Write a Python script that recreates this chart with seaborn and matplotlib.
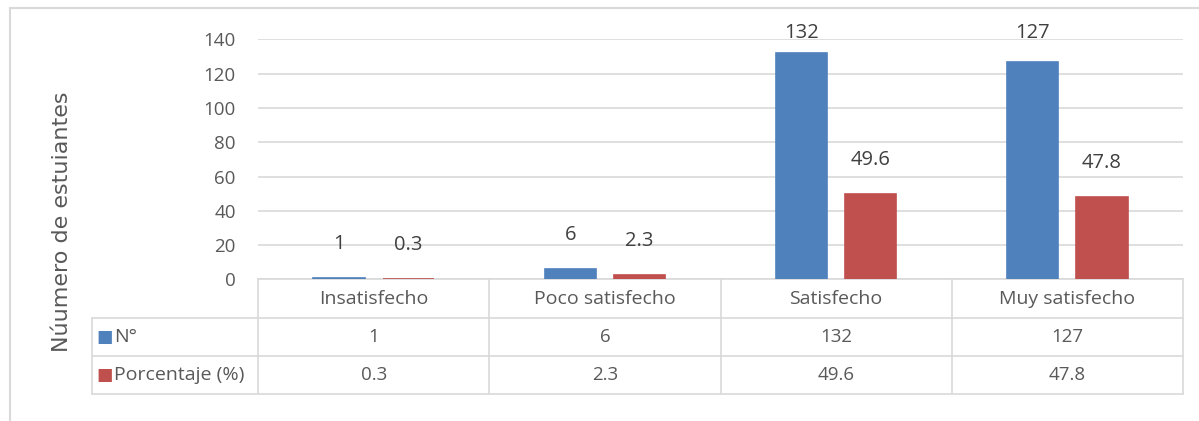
import matplotlib

matplotlib.use("Agg")
import matplotlib.pyplot as plt
import pandas as pd
import seaborn as sns

# --------------------------------------------------------------------------- #
# Data
# --------------------------------------------------------------------------- #
categories = ["Insatisfecho", "Poco satisfecho", "Satisfecho", "Muy satisfecho"]
series_names = ["N°", "Porcentaje (%)"]
n_values = [1, 6, 132, 127]
pct_values = [0.3, 2.3, 49.6, 47.8]
y_ticks = [0, 20, 40, 60, 80, 100, 120, 140]
y_label = "Núumero de estuiantes"

colors = ["#4F81BD", "#C0504D"]
text_c = "#595959"
grid_c = "#D9D9D9"

df = pd.DataFrame({
    "categoria": categories * 2,
    "serie": [series_names[0]] * 4 + [series_names[1]] * 4,
    "valor": n_values + pct_values,
})

sns.set_theme(style="white")
plt.rcParams["font.family"] = ["Open Sans", "DejaVu Sans"]

W, H = 1199, 421
fig = plt.figure(figsize=(W / 100, H / 100), dpi=100)


def px_rect(x0, y0, x1, y1):
    return [x0 / W, 1 - y1 / H, (x1 - x0) / W, (y1 - y0) / H]


# bar axes
ax = fig.add_axes(px_rect(258, 39.3, 1183, 279.4))
sns.barplot(data=df, x="categoria", y="valor", hue="serie", order=categories,
            hue_order=series_names, palette=colors, width=0.6, gap=0.26,
            saturation=1, legend=False, ax=ax)
for p in ax.patches:
    p.set_zorder(3)
    p.set_edgecolor(p.get_facecolor())
    p.set_linewidth(1.2)
ax.set_xlim(-0.5, len(categories) - 0.5)
ax.set_ylim(0, 140)
ax.set_yticks(y_ticks)
ax.set_yticklabels([str(t) for t in y_ticks], color=text_c, fontsize=13.5)
ax.tick_params(axis="y", length=0, pad=16)
ax.set_xticks([])
ax.set_xlabel("")
ax.set_ylabel("")
ax.yaxis.grid(True, color=grid_c, lw=1.2)
ax.set_axisbelow(True)
for s in ["top", "right", "left"]:
    ax.spines[s].set_visible(False)
ax.spines["bottom"].set_color(grid_c)
ax.spines["bottom"].set_linewidth(1.2)
ax.spines["bottom"].set_zorder(0.5)

# data labels above bars (clamped to the top of the plot area like Excel)
for cont, vals in zip(ax.containers, [n_values, pct_values]):
    for bar, v in zip(cont, vals):
        yl = min(v + 19.8, 143.5)
        ax.text(bar.get_x() + bar.get_width() / 2, yl, f"{v:g}",
                ha="center", va="center", fontsize=14.5, color="#404040",
                clip_on=False)

# data table below the chart
tx0, tx1 = 92, 1183
tab = fig.add_axes(px_rect(tx0, 279.4, tx1, 394))
first_col = (258 - tx0) / ((1183 - 258) / len(categories))
tab.set_xlim(-0.5 - first_col, len(categories) - 0.5)
tab.set_ylim(3, 0)
tab.axis("off")
lk = dict(color=grid_c, lw=1.2, clip_on=False)
for yy in [1, 2, 3]:
    tab.plot([-0.5 - first_col, len(categories) - 0.5], [yy, yy], **lk)
tab.plot([-0.5 - first_col] * 2, [1, 3], **lk)
for i in range(len(categories) + 1):
    tab.plot([i - 0.5] * 2, [0, 3], **lk)

for i, c in enumerate(categories):
    tab.text(i, 0.5, c, ha="center", va="center", fontsize=14, color=text_c)
    tab.text(i, 1.5, f"{n_values[i]:g}", ha="center", va="center",
             fontsize=13.5, color=text_c)
    tab.text(i, 2.5, f"{pct_values[i]:g}", ha="center", va="center",
             fontsize=13.5, color=text_c)

for r, (name, col) in enumerate(zip(series_names, colors)):
    x_left = -0.5 - first_col + 0.02
    tab.text(x_left, r + 1.5, "■", ha="left", va="center", fontsize=12.5,
             color=col, family=["DejaVu Sans"])
    tab.text(x_left + 0.075, r + 1.5, name, ha="left", va="center",
             fontsize=14, color=text_c)

# y label
fig.text(62 / W, 1 - 222 / H, y_label, rotation=90, ha="center", va="center",
         fontsize=16, color=text_c, family=["DejaVu Sans"])

# chart frame (left and top edges visible)
fig.add_artist(plt.Line2D([10 / W, 10 / W], [0, 1 - 7.5 / H], color=grid_c,
                          lw=1.5, transform=fig.transFigure))
fig.add_artist(plt.Line2D([10 / W, 1], [1 - 7.5 / H, 1 - 7.5 / H],
                          color=grid_c, lw=1.5, transform=fig.transFigure))

fig.savefig("out.png", dpi=100)
plt.close(fig)
